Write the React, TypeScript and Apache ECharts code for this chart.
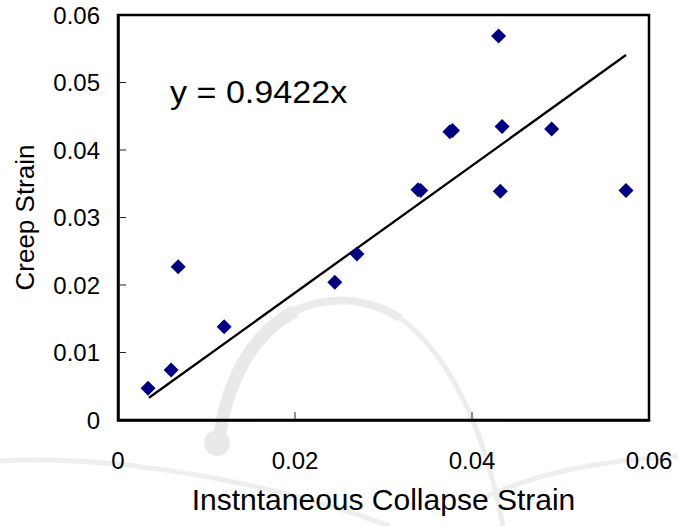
import React, { useEffect, useRef } from "react";
import * as echarts from "echarts";

const xValues = [0.0034, 0.006, 0.0068, 0.012, 0.0245, 0.027, 0.0339, 0.0342, 0.0375, 0.0378, 0.043, 0.0434, 0.0432, 0.049, 0.0574];
const yValues = [0.0047, 0.0074, 0.0227, 0.0138, 0.0204, 0.0246, 0.0341, 0.034, 0.0427, 0.0429, 0.0569, 0.0435, 0.0339, 0.0431, 0.034];
const slope = 0.9422;
const trendX = [0.0035, 0.0574];
const xTicks = [0, 0.02, 0.04, 0.06];
const yTicks = [0, 0.01, 0.02, 0.03, 0.04, 0.05, 0.06];

const FONT = "Liberation Sans, Arial, Helvetica, sans-serif";

export default function App() {
  const ref = useRef<HTMLDivElement>(null);
  useEffect(() => {
    const chart = echarts.init(ref.current!, null, { renderer: "svg" });
    const fmt = (v: number) => (Math.abs(v) < 1e-9 ? "0" : String(Number(v.toFixed(2))));
    const innerX = xTicks.slice(1, -1);
    const innerY = yTicks.slice(1, -1);
    const tickData = [
      ...innerX.map((v) => [v, yTicks[0], 0]),
      ...innerY.map((v) => [xTicks[0], v, 1]),
    ];
    chart.setOption({
      animation: false,
      backgroundColor: "#ffffff",
      grid: {
        left: 118,
        right: 29,
        top: 15,
        bottom: 106,
        show: true,
        borderColor: "#000",
        borderWidth: 2.5,
        backgroundColor: "transparent",
      },
      graphic: [
        { type: "circle", shape: { cx: 217, cy: 443, r: 13 }, style: { fill: "#e9e9e9" }, z: -10 },
        { type: "bezierCurve", shape: { x1: 219, y1: 440, cpx1: 226, cpy1: 385, cpx2: 250, cpy2: 335, x2: 295, y2: 311 }, style: { stroke: "#e9e9e9", lineWidth: 13, fill: null }, z: -10 },
        { type: "bezierCurve", shape: { x1: 295, y1: 311, cpx1: 325, cpy1: 296, cpx2: 365, cpy2: 296, x2: 400, y2: 318 }, style: { stroke: "#ebebeb", lineWidth: 8, fill: null }, z: -10 },
        { type: "bezierCurve", shape: { x1: 400, y1: 318, cpx1: 450, cpy1: 355, cpx2: 485, cpy2: 430, x2: 503, y2: 526 }, style: { stroke: "#ededed", lineWidth: 5, fill: null }, z: -10 },
        { type: "bezierCurve", shape: { x1: 0, y1: 461, cpx1: 100, cpy1: 455, cpx2: 250, cpy2: 475, x2: 390, y2: 526 }, style: { stroke: "#eeeeee", lineWidth: 5, fill: null }, z: -10 },
        { type: "bezierCurve", shape: { x1: 480, y1: 500, cpx1: 540, cpy1: 470, cpx2: 610, cpy2: 460, x2: 678, y2: 456 }, style: { stroke: "#eeeeee", lineWidth: 5, fill: null }, z: -10 },
        {
          type: "text",
          x: 170,
          y: 77,
          scaleX: 1.1,
          style: { text: "y = 0.9422x", font: `31px ${FONT}`, fill: "#000" },
          z: 10,
        },
      ],
      xAxis: {
        type: "value",
        min: xTicks[0],
        max: xTicks[xTicks.length - 1],
        interval: xTicks[1] - xTicks[0],
        name: "Instntaneous Collapse Strain",
        nameLocation: "middle",
        nameGap: 64,
        nameTextStyle: { fontFamily: FONT, fontSize: 30, color: "#000" },
        axisLine: { show: true, onZero: false, lineStyle: { color: "#000", width: 2.5 } },
        axisTick: { show: false },
        splitLine: { show: false },
        axisLabel: {
          fontFamily: FONT,
          fontSize: 24,
          color: "#000",
          margin: 28,
          formatter: (v: number) => fmt(v),
        },
      },
      yAxis: {
        type: "value",
        min: yTicks[0],
        max: yTicks[yTicks.length - 1],
        interval: yTicks[1] - yTicks[0],
        name: "Creep Strain",
        nameLocation: "middle",
        nameGap: 80,
        nameTextStyle: { fontFamily: FONT, fontSize: 26, color: "#000" },
        axisLine: { show: true, onZero: false, lineStyle: { color: "#000", width: 2.5 } },
        axisTick: { show: false },
        splitLine: { show: false },
        axisLabel: {
          fontFamily: FONT,
          fontSize: 24,
          color: "#000",
          margin: 18,
          formatter: (v: number) => fmt(v),
        },
      },
      series: [
        {
          type: "custom",
          data: tickData,
          silent: true,
          clip: false,
          z: 5,
          renderItem: (params: any, api: any) => {
            const p = api.coord([api.value(0), api.value(1)]);
            const horiz = api.value(2) === 1;
            return {
              type: "line",
              shape: horiz
                ? { x1: p[0], y1: p[1], x2: p[0] + 8, y2: p[1] }
                : { x1: p[0], y1: p[1], x2: p[0], y2: p[1] - 8 },
              style: { stroke: "#222", lineWidth: 1 },
            };
          },
        },
        {
          type: "line",
          data: trendX.map((x) => [x, slope * x]),
          showSymbol: false,
          symbol: "none",
          lineStyle: { color: "#000", width: 2.3 },
          z: 2,
        },
        {
          type: "scatter",
          data: xValues.map((x, i) => [x, yValues[i]]),
          symbol: "diamond",
          symbolSize: 15,
          itemStyle: { color: "#000080", opacity: 1 },
          z: 3,
        },
      ],
    });
    return () => chart.dispose();
  }, []);
  return <div ref={ref} style={{ width: 678, height: 526, position: "absolute", left: 0, top: 0 }} />;
}
